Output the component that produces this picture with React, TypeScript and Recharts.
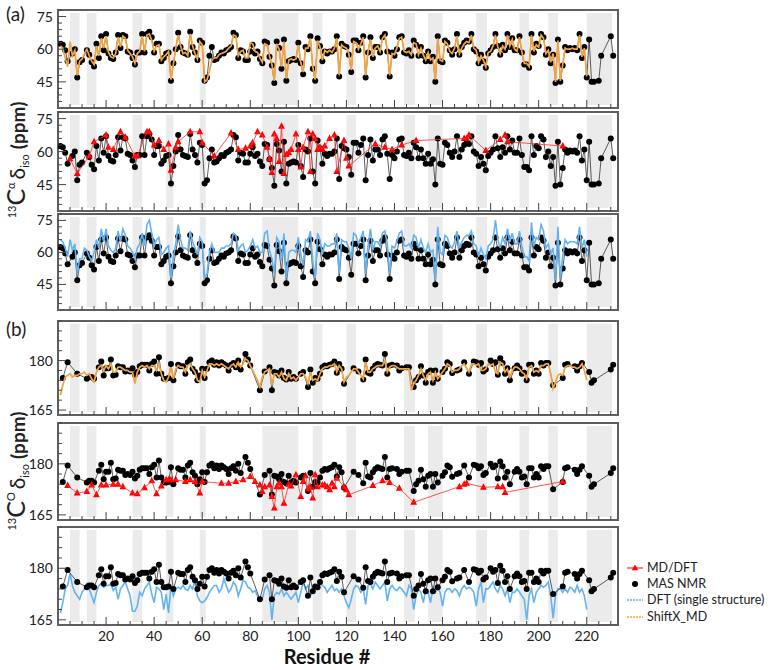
import React from 'react';
import { LineChart, Line, XAxis, YAxis, ReferenceArea } from 'recharts';

const FONT = 'Lato, "Open Sans", sans-serif';

// shaded residue ranges
const bands: [number, number][] = [[5, 9], [12, 16], [31, 35], [45, 48], [59, 61.5], [85, 100], [106, 110], [120, 124], [144, 148.5], [154, 160], [174, 178.5], [192, 196], [204, 208], [220, 230.5]];

const xTicks = [5, 10, 15, 20, 25, 30, 35, 40, 45, 50, 55, 60, 65, 70, 75, 80, 85, 90, 95, 100, 105, 110, 115, 120, 125, 130, 135, 140, 145, 150, 155, 160, 165, 170, 175, 180, 185, 190, 195, 200, 205, 210, 215, 220, 225, 230];
const caTicks = [36, 39, 42, 45, 48, 51, 54, 57, 60, 63, 66, 69, 72, 75, 78];
const caLabels = [45, 60, 75];
const coTicks = [165, 168, 171, 174, 177, 180, 183, 186, 189, 192];
const coLabels = [165, 180];

// MAS NMR Cα (residues 1..232)
const caNmr: (number | null)[] = [
  62.5, 62, 59.5, 54.5, null, 58, 60, 47, 54, 55,
  null, 59.5, 57.5, 54, 52, 62.5, 56, 66, 59.5, 67,
  58, 56, 55.5, 58.5, 66.5, 60.5, 66.5, 66, 59, 58.5,
  56, 53, 58.5, 58.5, 67, 58.5, 67, 68, 65.5, 58.5,
  62.5, 62.5, 54.5, 56, 58, 58.5, 45.5, 53.5, 60, 67.5,
  61, 58.5, 58, 57.5, 68, 61, 58.5, 55, 64, 63,
  45.5, 47, 57, 61, 55, 55.5, 57, 58.5, 58, 59.5,
  60, 61, 67.5, 66.5, 56, 59.5, 59, 55, 55, 59,
  62, 58, 59, 55.5, 53.5, 63.5, 63, 56.5, 52.5, 44.5,
  63.5, 60.5, 51, 64.5, 45.5, 54.5, 55, 55.5, 55, 63,
  53.5, 48.5, 61, 60, 66, 51, 45.5, 65, 61.5, 54.5,
  59, 58, 59, 59, 60, 66, 47.5, 62.5, 61.5, 61,
  57.5, 49.5, 64, 64, 59.5, 63, 66, 47, 58.5, 65.5,
  56, 61, 61, 58.5, 65.5, 67, 59, 47.5, 58.5, 57,
  60, 65.5, 66, 58.5, 58, 59.5, 57, 64, 62, 57,
  61, 57, 54.5, 59, 54.5, 56.5, 45, 66, 54.5, 54,
  64, 63, 59.5, 57.5, 60, 67, 57.5, 61, 63, 64,
  63.5, 67, 60, 59, 53.5, 57.5, 54.5, 51.5, 58, 59.5,
  61, 67, 61.5, 57.5, 62, 59.5, 67, 61, 65, 59.5,
  59.5, 66, 58.5, 53, 53, 51.5, 67, 58.5, 62.5, 61.5,
  67, 65.5, 57.5, 60, 53.5, 57.5, 44.5, 64.5, 45, 52.5,
  61, 59.5, 60.5, 60, 60.5, 59.5, 67, 56, 61, 47,
  64.5, 45, 45, null, 45.5, 57, null, null, null, 66, 57, null,
];

// ShiftX_MD Cα (residues 1..220)
const caShiftx: number[] = [
  61.5, 60.5, 56, 52, 63.5, 57, 59.5, 48, 54.5, 55.5,
  58, 60, 57, 54.5, 53, 61.5, 57, 65, 60.5, 66,
  58.5, 56.5, 56, 58, 65.5, 61, 66, 65, 59.5, 58,
  56.5, 53.5, 58, 59, 66, 59, 66.5, 67, 64, 59,
  61.5, 62, 55, 56.5, 57.5, 59, 46, 53, 60.5, 66.5,
  61.5, 58, 58.5, 57, 67, 61.5, 58, 55.5, 63.5, 62,
  45, 46, 50, 55, 56, 56, 57.5, 58, 58.5, 59,
  60.5, 61.5, 66.5, 66, 57, 59, 59.5, 56, 56, 63,
  62.5, 59, 58.5, 56, 54, 62.5, 62, 57, 53, 45.5,
  62.5, 60, 52, 63.5, 46.5, 55, 55.5, 55, 55.5, 62,
  54, 49.5, 60.5, 60.5, 65, 52, 46, 64, 61, 55,
  59.5, 58.5, 59.5, 58.5, 60.5, 65, 48, 62, 61, 60.5,
  58, 50.5, 63.5, 63, 60, 62.5, 65.5, 48, 59, 64.5,
  56.5, 60.5, 61.5, 59, 65, 66.5, 59.5, 48, 58, 57.5,
  60.5, 65, 65.5, 59, 58.5, 59, 57.5, 63, 62.5, 57.5,
  60.5, 57.5, 55, 58.5, 55, 56, 46, 65, 55, 54.5,
  63.5, 62.5, 59, 58, 60.5, 66, 58, 60.5, 62.5, 63.5,
  63, 66.5, 60.5, 59.5, 54, 57, 55, 52, 58.5, 59,
  61.5, 66.5, 61, 58, 61.5, 60, 66.5, 61.5, 64.5, 60,
  59, 65.5, 59, 53.5, 53.5, 52, 66.5, 59, 62, 61,
  66.5, 65, 58, 59.5, 54, 58, 45, 64, 45.5, 53,
  60.5, 60, 60, 60.5, 60, 60, 66.5, 56.5, 60.5, 47.5,
];

// DFT (single structure) Cα (residues 1..220)
const caDft: number[] = [
  66, 65, 62, 58, 66, 61, 64, 50, 57, 57,
  62, 61, 58, 56, 60, 66, 62, 71, 65, 71,
  63, 61, 60, 62, 70, 65, 71, 68, 63, 62,
  60, 57, 62, 64, 69, 63, 73, 75, 69, 63,
  66, 67, 59, 60, 62, 63, 48, 58, 64, 73,
  66, 62, 62, 61, 70, 65, 62, 59, 67, 65,
  48, 50, 60, 64, 60, 60, 60, 62, 62, 63,
  63, 64, 69, 68, 61, 63, 64, 60, 61, 63,
  66, 62, 63, 60, 60, 69, 70, 61, 57, 50,
  67, 65, 56, 69, 48, 60, 61, 61, 60, 67,
  59, 54, 66, 65, 70, 56, 48, 69, 66, 59,
  64, 63, 63, 64, 64, 69, 50, 66, 65, 65,
  62, 57, 69, 68, 64, 67, 70, 50, 63, 71,
  61, 65, 65, 63, 69, 70, 64, 50, 63, 62,
  65, 69, 70, 63, 63, 64, 62, 68, 67, 62,
  66, 62, 60, 64, 60, 61, 47, 72, 60, 59,
  68, 67, 63, 62, 65, 70, 62, 65, 67, 68,
  68, 70, 64, 63, 58, 62, 59, 57, 63, 64,
  66, 75, 66, 62, 67, 64, 71, 65, 69, 64,
  64, 70, 63, 58, 58, 56, 74, 63, 67, 66,
  73, 70, 62, 64, 59, 62, 47, 72, 48, 58,
  66, 64, 65, 65, 65, 64, 72, 62, 66, 58,
];

// MD/DFT Cα: [residue, value]
const caMd: [number, number][] = [
  [5, 56.7], [8, 50], [13, 58], [15, 64.5], [20, 67.5], [21, 62], [23, 61], [26, 69], [28, 66.5], [32, 58],
  [33, 58], [37, 69], [38, 69], [40, 63], [42, 65], [44, 61], [46, 63.5], [47, 51.5], [49, 62], [50, 64.5],
  [55, 69], [59, 69], [60, 64], [65, 58], [72, 68.5], [75, 61], [78, 61.5], [80, 62.5], [81, 64], [83, 69],
  [85, 67.5], [87, 62], [88, 56.7], [89, 50.5], [90, 68], [91, 66], [92, 55.5], [93, 71.5], [94, 50], [95, 58.7],
  [96, 59.5], [97, 61], [99, 68], [100, 61], [101, 53], [102, 62], [104, 69], [105, 51], [106, 68], [107, 66],
  [108, 61], [109, 62], [110, 61], [111, 62.5], [113, 66], [115, 67.5], [116, 51], [119, 65], [120, 57], [121, 53.5],
  [132, 63.5], [136, 62], [139, 61], [143, 63], [149, 65], [169, 66], [170, 66], [171, 67.5], [178, 60.5], [184, 65.5],
  [186, 67.5], [187, 64.5], [210, 62.5],
];

// MAS NMR CO (residues 1..232)
const coNmr: (number | null)[] = [
  null, 174.7, null, 179.5, null, null, null, 176, null, null,
  null, 174.5, 175, 175, 174.5, null, 178, 179.7, 175.5, 177.7,
  177.7, 180.3, 175.5, 175.7, 178.3, 178, 178, 176.7, 177, 176.7,
  177.7, 175.7, 176.5, 178.3, 178.7, 178.7, 178.7, 177, 179, 179.7,
  176, 181, 176, 174.5, 174.5, 174.7, 179, 174, null, 178.7,
  178.3, 178.3, 176, 179.5, 180.3, 177.5, 176.5, 174, 175.5, 177.5,
  174.7, 177.5, 179.5, 180, 178.7, 179.5, 178.5, 179.5, 179, 178.5,
  177, 178.7, 179.3, 178, 180, 177.3, null, 182, 180.3, 178.5,
  null, null, null, 171, null, 176.7, null, 178, 171, 176.5,
  176.3, 175.5, 177, 174.7, 174.3, 176.5, 174.5, 175, 174.5, null,
  176, 176.5, null, 172, 177.3, 173.3, 174.7, 174.5, 176, 178,
  178.5, 178.3, 178.7, 179, 179.7, 176.3, 179, 177.5, 173, null,
  null, null, 177.7, null, 176.7, null, 174.3, 180.3, 176.3, 176,
  177.5, 178.5, 179, 178.7, 178.5, 182, 176, 178.5, 178.7, null,
  178.5, 177, 177.7, null, 178, 178, null, 172, 174, 175,
  178.3, 175.5, 173.3, 176.5, 177, 173.3, 177, 174.5, null, 176.5,
  177.5, 179.5, 179, 176.2, null, 177, 177.3, null, 179.5, null,
  176, null, 179.7, 179.5, 178.7, 179.3, 176.7, 177.3, null, 180,
  179, 179.5, 175.7, 180.7, 179.3, 176, 177.7, 174, null, 177.7,
  178.5, 177.7, 176, 176.3, 174, 178.7, 178.7, 176, 177, 176,
  179.3, 178.5, 179.3, 179.3, null, 172.5, null, null, null, 174.7,
  178.7, 179, null, null, 178.3, 177, 178.3, 179.3, null, null,
  176.5, 173.3, 174, null, null, null, null, null, null, 177.3, 178.7, null,
];

// ShiftX_MD CO (residues 1..220)
const coShiftx: number[] = [
  169.5, 172.5, 175, 175.5, 176, 175, 175.5, 175.5, 176, 176,
  176.5, 175.5, 176, 174.5, 173.5, 176.5, 178, 178.5, 177, 178.5,
  177.5, 179, 176.5, 176.5, 178, 178, 177.5, 177, 177, 176.5,
  176.5, 173, 176.5, 178, 178.5, 178, 178.5, 177.5, 178.5, 178.5,
  177, 179, 176, 174, 173.5, 175, 178, 174.5, 177.5, 178.5,
  178, 178, 176.5, 178.5, 179, 177.5, 176.5, 174, 173.5, 177,
  175, 177, 179, 179, 178.5, 179, 178.5, 179, 178.5, 178,
  177.5, 178.5, 179, 178, 179.5, 178, 179, 180.5, 180, 178.5,
  177, 175.5, 174, 172, 175, 176.5, 177, 177.5, 172.5, 176,
  176, 175, 176.5, 174.5, 174, 176, 174.5, 175, 174, 175,
  176, 176, 175, 173, 176.5, 174, 174.5, 174, 176, 177.5,
  178, 178, 178.5, 178.5, 179, 176.5, 178.5, 177.5, 173.5, 175,
  175.5, 176.5, 177.5, 177.5, 176.5, 175.5, 174.5, 179.5, 176.5, 176.5,
  177.5, 178, 178.5, 178.5, 178.5, 180, 176.5, 178, 178.5, 178.5,
  178, 177.5, 177.5, 177.5, 177.5, 177.5, 171, 173, 174, 175.5,
  177.5, 175.5, 174, 176, 176.5, 174, 176.5, 174.5, 175.5, 176.5,
  177.5, 179, 178.5, 176.5, 177, 177, 177.5, 178.5, 179, 177.5,
  176.5, 179, 179, 178.5, 179, 177, 177, 177.5, 179, 178.5,
  179, 176.5, 176, 179.5, 179, 176.5, 177.5, 175, 177, 178,
  178, 177.5, 176.5, 176, 174.5, 178, 178.5, 176.5, 177, 176.5,
  178.5, 178.5, 179, 179, 176, 171.5, 173.5, 175.5, 176, 175.5,
  178, 178.5, 178.5, 178, 178, 177.5, 178, 179, 177, 174,
];

// DFT (single structure) CO (residues 1..220)
const coDft: number[] = [
  167, 170, 174, 175, 178.5, 175, 173, 172, 171, 173,
  174, 175.5, 174, 172, 170, 173, 175, 175.5, 174.5, 175,
  175, 175.5, 173.5, 174.5, 171, 174, 175, 176, 174, 172,
  167.5, 167.5, 169, 173, 172, 174, 175, 176, 172.5, 170,
  174.5, 174, 173, 168, 172.5, 167, 175, 172, 174, 174.5,
  174, 175, 174, 173.5, 175, 174, 176.5, 172, 170.5, 170,
  170.5, 171.5, 173, 174, 175, 175, 173, 174, 177, 175,
  173, 174, 176, 175, 172, 174, 176.5, 176, 174.5, 174,
  173, 173.5, 172, 171, 171, 174, 175, 173, 165, 172,
  173, 172.5, 174, 172, 173, 172, 171, 172, 173, 170,
  173, 176, 174, 175, 172, 173.5, 175, 174, 175.5, 175,
  174.5, 173, 174, 175, 173.5, 174, 173, 174, 172, 170,
  168.5, 171, 174, 175, 174.5, 173, 174, 169.5, 175, 175.5,
  174, 176, 175, 174, 175, 176, 170.5, 174, 175, 174,
  173.5, 174.5, 174, 173, 172, 175, 174, 168, 172, 174,
  173, 170, 174, 173, 170, 174.5, 173, 174, 173, 169,
  173, 174, 174, 173, 174, 173.5, 172, 174, 175, 174,
  174.5, 174, 173, 169, 174, 176, 170, 174, 174, 175,
  176, 174, 173, 175, 174, 172, 174, 170, 173, 173,
  174, 173, 172, 171, 165, 172, 174, 170, 173, 174,
  175, 174.5, 175, 176, 172, 165.5, 172, 174, 174, 173,
  174, 173, 174.5, 174, 173, 175, 173, 174, 172, 168,
];

// MD/DFT CO: [residue, value]
const coMd: [number, number][] = [
  [4, 173.6], [8, 171.4], [12, 171.9], [14, 173.8], [16, 170.9], [18, 173.8], [20, 173.8], [23, 174], [25, 174], [27, 173.3],
  [31, 171.4], [33, 171.2], [36, 173], [39, 175], [41, 171.2], [43, 173.5], [45, 175.3], [46, 175.3], [47, 175.3], [49, 175.3],
  [53, 174.8], [55, 175.3], [57, 174.8], [59, 171.4], [60, 174.8], [68, 174.3], [71, 174.3], [74, 174.8], [77, 175.3], [80, 176.3],
  [82, 174.8], [84, 173.8], [85, 171.9], [86, 173.3], [88, 173.8], [89, 170.4], [90, 167], [91, 173.3], [92, 174.3], [93, 173.3],
  [94, 168.4], [96, 174], [97, 173.5], [99, 176.8], [101, 170.4], [102, 174.8], [103, 176.5], [104, 172.6], [105, 173.3], [106, 170],
  [107, 176.8], [108, 173.3], [110, 173.8], [111, 173.8], [112, 173.3], [113, 172.4], [114, 174.3], [115, 173.3], [116, 175.8], [119, 173.3],
  [120, 172.4], [121, 170.9], [131, 173.6], [135, 175], [138, 174.5], [142, 172.8], [148, 168.7], [167, 173.3], [169, 174], [170, 174.3],
  [177, 173.1], [183, 173.3], [185, 173.3], [186, 171.6], [210, 174.8],
];

const CA_DOMAIN: [number, number] = [33, 78];
const CO_DOMAIN: [number, number] = [163.5, 192];
const X_DOMAIN: [number, number] = [0, 233];

const nmrRows = (nmr: (number | null)[], sx: number[], dft: number[]) =>
  nmr.map((v, i) => ({ r: i + 1, nmr: v, sx: i < sx.length ? sx[i] : null, dft: i < dft.length ? dft[i] : null }));

const caRows = nmrRows(caNmr, caShiftx, caDft);
const coRows = nmrRows(coNmr, coShiftx, coDft);
const caMdRows = caMd.map(([r, v]) => ({ r, md: v }));
const coMdRows = coMd.map(([r, v]) => ({ r, md: v }));

const C_NMR = '#000';
const C_NMR_LINE = '#333';
const C_SX = '#f2a442';
const C_DFT = '#62b3f0';
const C_MD = '#ff2a2a';
const C_FRAME = '#5f5f5f';
const C_BAND = '#ebebeb';

const renderXTick = (showLabel: boolean) => (p: any) => {
  const { x, y, payload } = p;
  const v = payload.value;
  const major = v % 20 === 0;
  return (
    <g key={`xt-${v}`}>
      <line x1={x} x2={x} y1={y} y2={y - (major ? 8 : 4)} stroke="#444" strokeWidth={1} />
      {showLabel && major ? (
        <text x={x} y={y + 16} textAnchor="middle" fontSize={14} fill="#222" fontFamily={FONT}>{v}</text>
      ) : null}
    </g>
  );
};

const renderYTick = (labels: number[]) => (p: any) => {
  const { x, y, payload } = p;
  const v = payload.value;
  const major = labels.includes(v);
  return (
    <g key={`yt-${v}`}>
      <line x1={x} x2={x + (major ? 8 : 4)} y1={y} y2={y} stroke="#444" strokeWidth={1} />
      {major ? (
        <text x={x - 5} y={y} dy="0.36em" textAnchor="end" fontSize={14} fill="#222" fontFamily={FONT}>{v}</text>
      ) : null}
    </g>
  );
};

const Tri = (p: any) => {
  const { cx, cy, index } = p;
  if (cx == null || cy == null) return <g key={`tri-${index}`} />;
  return <polygon key={`tri-${index}`} points={`${cx},${cy - 4} ${cx - 3.4},${cy + 2.5} ${cx + 3.4},${cy + 2.5}`} fill="#ff0000" />;
};

type PanelProps = {
  top: number;
  plotH: number;
  domain: [number, number];
  yTicks: number[];
  yLabels: number[];
  rows: any[];
  showX?: boolean;
  children?: React.ReactNode;
};

function Panel({ top, plotH, domain, yTicks, yLabels, rows, showX, children }: PanelProps) {
  const mt = 4;
  const mb = showX ? 30 : 4;
  const inset = (domain[1] - domain[0]) * 0.03;
  return (
    <div style={{ position: 'absolute', left: 0, top: top - mt }}>
      <LineChart width={640} height={plotH + mt + mb} data={rows} margin={{ top: mt, right: 22, bottom: mb - 1, left: 57 }}>
        <XAxis
          type="number"
          dataKey="r"
          domain={X_DOMAIN}
          allowDataOverflow
          ticks={xTicks}
          interval={0}
          height={1}
          tickSize={0}
          tickMargin={0}
          axisLine={false}
          tickLine={false}
          tick={renderXTick(!!showX)}
        />
        <YAxis
          type="number"
          domain={domain}
          allowDataOverflow
          ticks={yTicks}
          interval={0}
          width={1}
          tickSize={0}
          tickMargin={0}
          axisLine={false}
          tickLine={false}
          tick={renderYTick(yLabels)}
        />
        {bands.map(([a, b], i) => (
          <ReferenceArea key={`band-${i}`} x1={a} x2={b} y1={domain[0] + inset} y2={domain[1] - inset} fill={C_BAND} fillOpacity={1} stroke="none" />
        ))}
        {children}
        <ReferenceArea x1={X_DOMAIN[0]} x2={X_DOMAIN[1]} y1={domain[0]} y2={domain[1]} fill="none" stroke={C_FRAME} strokeWidth={2} />
      </LineChart>
    </div>
  );
}

const nmrLine = (
  <Line
    key="nmr"
    type="linear"
    dataKey="nmr"
    stroke={C_NMR_LINE}
    strokeWidth={0.8}
    connectNulls
    dot={{ r: 3, fill: C_NMR, stroke: 'none' }}
    isAnimationActive={false}
  />
);

const TOP_Z: any = { zIndex: 1200 };

export default function App() {
  return (
    <div style={{ position: 'absolute', left: 0, top: 0, width: 777, height: 670, background: '#fff', fontFamily: FONT, overflow: 'hidden' }}>
      <Panel top={10} plotH={98} domain={CA_DOMAIN} yTicks={caTicks} yLabels={caLabels} rows={caRows}>
        {nmrLine}
        <Line type="linear" dataKey="sx" stroke={C_SX} strokeWidth={1.7} dot={false} isAnimationActive={false} {...TOP_Z} />
      </Panel>
      <Panel top={112} plotH={99} domain={CA_DOMAIN} yTicks={caTicks} yLabels={caLabels} rows={caRows}>
        {nmrLine}
        <Line type="linear" data={caMdRows} dataKey="md" stroke={C_MD} strokeOpacity={0.8} strokeWidth={1} dot={Tri} isAnimationActive={false} {...TOP_Z} />
      </Panel>
      <Panel top={214} plotH={96} domain={CA_DOMAIN} yTicks={caTicks} yLabels={caLabels} rows={caRows}>
        {nmrLine}
        <Line type="linear" dataKey="dft" stroke={C_DFT} strokeWidth={1.6} dot={false} isAnimationActive={false} {...TOP_Z} />
      </Panel>
      <Panel top={321} plotH={94} domain={CO_DOMAIN} yTicks={coTicks} yLabels={coLabels} rows={coRows}>
        {nmrLine}
        <Line type="linear" dataKey="sx" stroke={C_SX} strokeWidth={1.7} dot={false} isAnimationActive={false} {...TOP_Z} />
      </Panel>
      <Panel top={423} plotH={97} domain={CO_DOMAIN} yTicks={coTicks} yLabels={coLabels} rows={coRows}>
        {nmrLine}
        <Line type="linear" data={coMdRows} dataKey="md" stroke={C_MD} strokeOpacity={0.8} strokeWidth={1} dot={Tri} isAnimationActive={false} {...TOP_Z} />
      </Panel>
      <Panel top={527} plotH={98} domain={CO_DOMAIN} yTicks={coTicks} yLabels={coLabels} rows={coRows} showX>
        <Line type="linear" dataKey="dft" stroke={C_DFT} strokeWidth={1.6} dot={false} isAnimationActive={false} />
        {nmrLine}
      </Panel>

      <svg width={777} height={670} style={{ position: 'absolute', left: 0, top: 0, pointerEvents: 'none' }} fontFamily={FONT}>
        <text x={6} y={21} fontSize={19} fill="#222">(a)</text>
        <text x={6} y={336} fontSize={19} fill="#222">(b)</text>

        <text transform="translate(25,160) rotate(-90)" textAnchor="middle" fill="#222">
          <tspan fontSize={11} dy={-9}>13</tspan>
          <tspan fontSize={25} dy={9}>C</tspan>
          <tspan fontSize={11} dy={-10}>α</tspan>
          <tspan fontSize={21} dy={10} dx={3}>δ</tspan>
          <tspan fontSize={11} dy={4}>iso</tspan>
          <tspan fontSize={19} fontWeight="bold" dy={-4} dx={5}>(ppm)</tspan>
        </text>
        <text transform="translate(25,471) rotate(-90)" textAnchor="middle" fill="#222">
          <tspan fontSize={11} dy={-9}>13</tspan>
          <tspan fontSize={25} dy={9}>C</tspan>
          <tspan fontSize={11} dy={-10}>O</tspan>
          <tspan fontSize={21} dy={10} dx={3}>δ</tspan>
          <tspan fontSize={11} dy={4}>iso</tspan>
          <tspan fontSize={19} fontWeight="bold" dy={-4} dx={5}>(ppm)</tspan>
        </text>

        <text x={327} y={664} textAnchor="middle" fontSize={20} fontWeight="bold" fill="#111">Residue #</text>

        <g fontSize={12.5} fill="#222">
          <line x1={627} x2={643} y1={568} y2={568} stroke={C_MD} strokeWidth={1.2} />
          <polygon points="635,564.5 631.8,570.3 638.2,570.3" fill="#ff0000" />
          <text x={647} y={568} dy="0.35em">MD/DFT</text>

          <circle cx={635} cy={584} r={3} fill="#000" />
          <text x={647} y={584} dy="0.35em">MAS NMR</text>

          <line x1={627} x2={643} y1={600} y2={600} stroke={C_DFT} strokeWidth={1.6} strokeDasharray="2 1" />
          <text x={647} y={600} dy="0.35em">DFT (single structure)</text>

          <line x1={627} x2={643} y1={617} y2={617} stroke={C_SX} strokeWidth={1.6} strokeDasharray="2 1" />
          <text x={647} y={617} dy="0.35em">ShiftX_MD</text>
        </g>
      </svg>
    </div>
  );
}
